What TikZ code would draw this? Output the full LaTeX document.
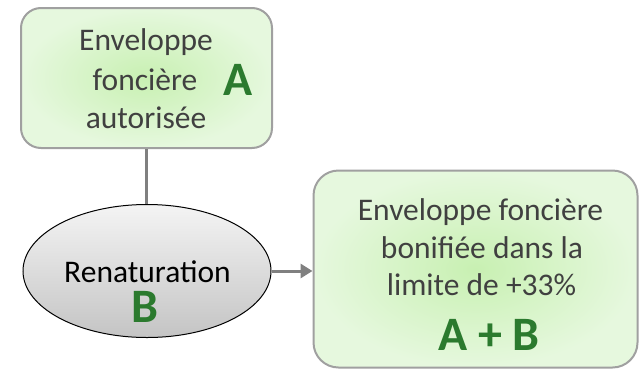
\documentclass[tikz,border=0pt]{standalone}
\usepackage{fontspec}
\setmainfont{Carlito}
\usetikzlibrary{shapes.geometric,arrows.meta}
\definecolor{txt}{HTML}{404040}
\definecolor{grn}{HTML}{2B7A2E}
\definecolor{bord}{HTML}{A0A0A0}
\definecolor{conn}{HTML}{808080}
\begin{document}
\begin{tikzpicture}[x=1pt,y=-1pt,
  greenbox/.style={draw=bord, line width=2pt, inner color={rgb,255:red,200;green,240;blue,178}, outer color={rgb,255:red,230;green,248;blue,222}, inner sep=0pt},
  ellbox/.style={ellipse, draw=black, line width=1pt, top color={rgb,255:red,244;green,244;blue,244}, bottom color={rgb,255:red,196;green,196;blue,196}, inner sep=0pt},
  body/.style={text=txt, font=\fontsize{31.5}{39}\selectfont, anchor=base, inner sep=0pt},
  big/.style={text=grn, font=\fontsize{48}{48}\selectfont\bfseries, anchor=base, inner sep=0pt},
  connector/.style={draw=conn, line width=3pt}]
\useasboundingbox (0,0) rectangle (639,370);
\node[greenbox, rounded corners=20pt, minimum width=251pt, minimum height=140pt] (A) at (146.5,78) {};
\node[greenbox, rounded corners=25pt, minimum width=324pt, minimum height=197pt] (C) at (475.5,269) {};
\node[ellbox, minimum width=248pt, minimum height=133pt] (E) at (147,271) {};
\draw[connector] (A.south) -- (A.south |- E.north);
\draw[connector, -{Triangle[length=12pt,width=14pt]}] (E.east) -- (E.east -| C.west);
\node[body] (A1) at (146,50) {Enveloppe};
\node[body] (A2) at (145,90) {foncière};
\node[body] (A3) at (146,128) {autorisée};
\node[big] (Al) at (238,95) {A};
\node[body, text=black] (Et) at (147.5,282) {Renaturation};
\node[big] (El) at (144.5,322) {B};
\node[body] (C1) at (480.5,220) {Enveloppe foncière};
\node[body] (C2) at (482,258) {bonifiée dans la};
\node[body] (C3) at (481.5,295) {limite de +33\%};
\node[big] (Cl) at (489,350) {A + B};
\end{tikzpicture}
\end{document}
